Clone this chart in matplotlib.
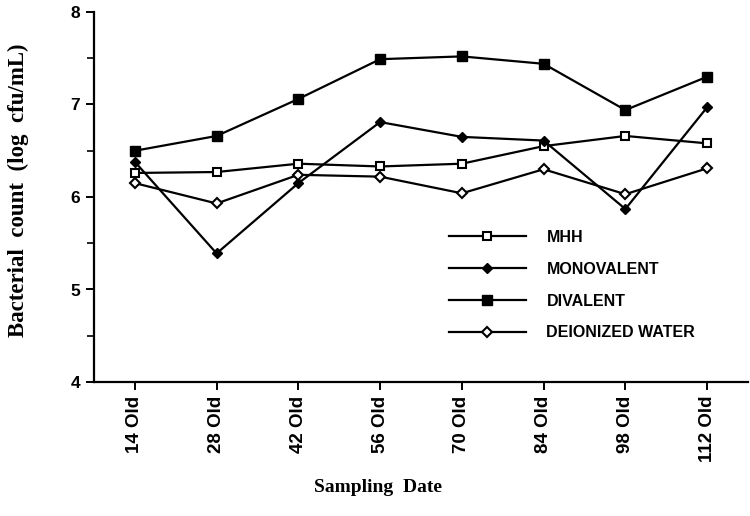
#!/usr/bin/env python3
"""Bacterial count over sampling dates for four treatments."""

import numpy as np
import matplotlib
matplotlib.use('Agg')
import matplotlib.pyplot as plt
from matplotlib.ticker import MultipleLocator

#--- DATA ------------------------------------------------------------------#

dates = ['14 Old', '28 Old', '42 Old', '56 Old', '70 Old', '84 Old', '98 Old', '112 Old']

mhh = [6.26, 6.27, 6.36, 6.33, 6.36, 6.55, 6.66, 6.58]
monovalent = [6.38, 5.39, 6.15, 6.81, 6.65, 6.61, 5.87, 6.97]
divalent = [6.50, 6.66, 7.06, 7.49, 7.52, 7.44, 6.94, 7.30]
deionized = [6.15, 5.93, 6.24, 6.22, 6.04, 6.30, 6.03, 6.31]

#--- END DATA --------------------------------------------------------------#

W, H = 750, 516
fig = plt.figure(figsize=(W / 100, H / 100), dpi=100)

# axes box in pixels: left spine at 94, bottom at 382, top at 12, right at 748
ax = fig.add_axes([94 / W, 1 - 382 / H, (748 - 94) / W, (382 - 12) / H])

x = np.arange(len(dates))
lw = 1.6

ax.plot(x, mhh, 'k-', lw=lw, marker='s', ms=5.5, mfc='white', mec='black',
        mew=1.5, label='MHH')
ax.plot(x, monovalent, 'k-', lw=lw, marker='D', ms=5, mfc='black',
        mec='black', label='MONOVALENT')
ax.plot(x, divalent, 'k-', lw=lw, marker='s', ms=6.5, mfc='black',
        mec='black', label='DIVALENT')
ax.plot(x, deionized, 'k-', lw=lw, marker='D', ms=5, mfc='white',
        mec='black', mew=1.5, label='DEIONIZED WATER')

ax.set_xlim(-0.5, 7.5)
ax.set_ylim(4, 8)

# only left and bottom spines, like the original
ax.spines['top'].set_visible(False)
ax.spines['right'].set_visible(False)
ax.spines['left'].set_linewidth(1.6)
ax.spines['bottom'].set_linewidth(1.6)

ax.set_xticks(x)
ax.set_xticklabels(dates, rotation=90, fontsize=13.5, fontweight='bold',
                   family='Liberation Sans')
ax.yaxis.set_major_locator(MultipleLocator(1))
ax.yaxis.set_minor_locator(MultipleLocator(0.5))
for lab in ax.get_yticklabels():
    lab.set_fontsize(12.5)
    lab.set_fontweight('bold')
    lab.set_family('Liberation Sans')
ax.tick_params(axis='both', which='major', direction='out', length=6,
               width=1.4, color='black', pad=4)
ax.tick_params(axis='y', which='minor', direction='out', length=5, width=1.2)

fig.text(18 / W, 1 - 190 / H, 'Bacterial  count  (log  cfu/mL)', rotation=90,
         ha='center', va='center', fontsize=16.5, fontweight='bold',
         family='Liberation Serif')
fig.text(378 / W, 1 - 487 / H, 'Sampling  Date', ha='center', va='center',
         fontsize=14, fontweight='bold', family='Liberation Serif')

leg = ax.legend(loc='upper left', bbox_to_anchor=(441 / W, 1 - 222 / H),
                bbox_transform=fig.transFigure, frameon=False, borderpad=0,
                handlelength=4.8, handletextpad=1.3, labelspacing=1.05,
                prop={'family': 'Liberation Sans', 'size': 11.5,
                      'weight': 'bold'})

fig.savefig('out.png', dpi=100)
